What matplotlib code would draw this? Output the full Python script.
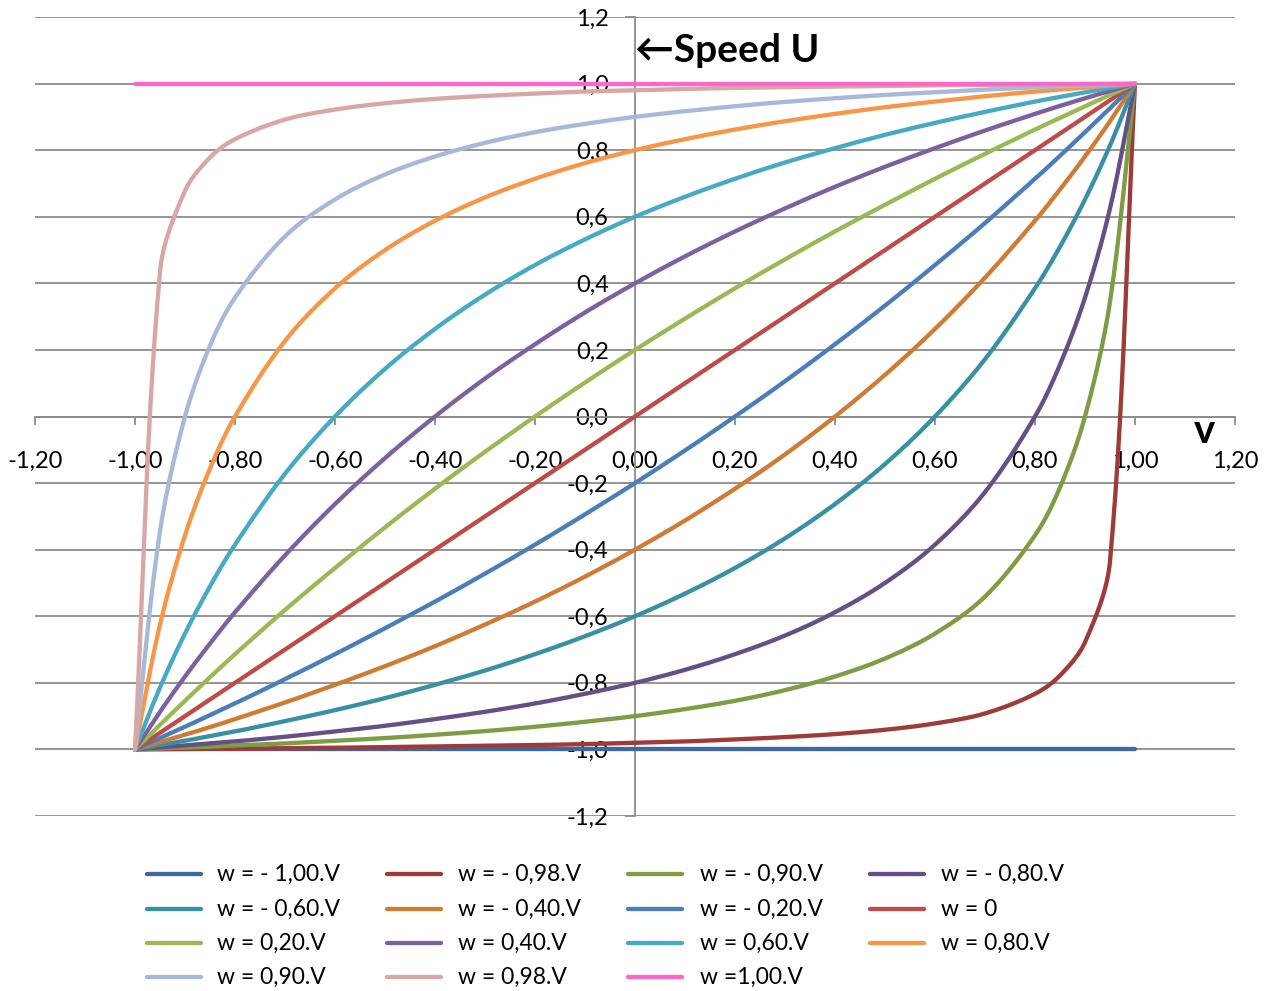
import numpy as np
import matplotlib
matplotlib.use("Agg")
import matplotlib.pyplot as plt
from matplotlib.lines import Line2D

plt.rcParams['font.family'] = ['Lato', 'DejaVu Sans']

# ---- data ----
V = [-1.0, -0.95, -0.9, -0.85, -0.8, -0.7, -0.6, -0.5, -0.4, -0.3, -0.2, -0.1, 0.0,
     0.1, 0.2, 0.3, 0.4, 0.5, 0.6, 0.7, 0.8, 0.85, 0.9, 0.95, 1.0]

u_wm100 = [-1.0] * 25
u_wm098 = [-1, -0.9995, -0.999, -0.998, -0.998, -0.996, -0.995, -0.993, -0.991, -0.989, -0.987, -0.984, -0.98,
           -0.976, -0.970, -0.963, -0.954, -0.941, -0.922, -0.892, -0.833, -0.778, -0.678, -0.435, 1]
u_wm090 = [-1, -0.997, -0.994, -0.992, -0.988, -0.982, -0.974, -0.966, -0.956, -0.945, -0.932, -0.917, -0.9,
           -0.879, -0.854, -0.822, -0.781, -0.727, -0.652, -0.541, -0.357, -0.213, 0, 0.345, 1]
u_wm080 = [-1, -0.994, -0.988, -0.982, -0.976, -0.962, -0.946, -0.929, -0.909, -0.887, -0.862, -0.833, -0.8,
           -0.761, -0.714, -0.658, -0.588, -0.5, -0.385, -0.227, 0, 0.156, 0.357, 0.625, 1]
u_wm060 = [-1, -0.987, -0.974, -0.960, -0.946, -0.915, -0.882, -0.846, -0.806, -0.763, -0.714, -0.660, -0.6,
           -0.532, -0.455, -0.366, -0.263, -0.143, 0, 0.172, 0.385, 0.510, 0.652, 0.814, 1]
u_wm040 = [-1, -0.978, -0.956, -0.933, -0.909, -0.859, -0.806, -0.75, -0.690, -0.625, -0.556, -0.481, -0.4,
           -0.3125, -0.217, -0.114, 0, 0.125, 0.263, 0.417, 0.588, 0.682, 0.781, 0.887, 1]
u_wm020 = [-1, -0.966, -0.932, -0.897, -0.862, -0.789, -0.714, -0.636, -0.556, -0.472, -0.385, -0.294, -0.2,
           -0.102, 0, 0.106, 0.217, 0.333, 0.455, 0.581, 0.714, 0.783, 0.854, 0.926, 1]
u_w000 = [-1.0, -0.95, -0.9, -0.85, -0.8, -0.7, -0.6, -0.5, -0.4, -0.3, -0.2, -0.1, 0.0,
          0.1, 0.2, 0.3, 0.4, 0.5, 0.6, 0.7, 0.8, 0.85, 0.9, 0.95, 1.0]
u_w020 = [-1, -0.926, -0.854, -0.783, -0.714, -0.581, -0.455, -0.333, -0.217, -0.106, 0, 0.102, 0.2,
          0.294, 0.385, 0.472, 0.556, 0.636, 0.714, 0.789, 0.862, 0.897, 0.932, 0.966, 1]
u_w040 = [-1, -0.887, -0.781, -0.682, -0.588, -0.417, -0.263, -0.125, 0, 0.114, 0.217, 0.3125, 0.4,
          0.481, 0.556, 0.625, 0.690, 0.75, 0.806, 0.859, 0.909, 0.933, 0.956, 0.978, 1]
u_w060 = [-1, -0.814, -0.652, -0.510, -0.385, -0.172, 0, 0.143, 0.263, 0.366, 0.455, 0.532, 0.6,
          0.660, 0.714, 0.763, 0.806, 0.846, 0.882, 0.915, 0.946, 0.960, 0.974, 0.987, 1]
u_w080 = [-1, -0.625, -0.357, -0.156, 0, 0.227, 0.385, 0.5, 0.588, 0.658, 0.714, 0.761, 0.8,
          0.833, 0.862, 0.887, 0.909, 0.929, 0.946, 0.962, 0.976, 0.982, 0.988, 0.994, 1]
u_w090 = [-1, -0.345, 0, 0.213, 0.357, 0.541, 0.652, 0.727, 0.781, 0.822, 0.854, 0.879, 0.9,
          0.917, 0.932, 0.945, 0.956, 0.966, 0.974, 0.982, 0.988, 0.992, 0.994, 0.997, 1]
u_w098 = [-1, 0.435, 0.678, 0.778, 0.833, 0.892, 0.922, 0.941, 0.954, 0.963, 0.970, 0.976, 0.98,
          0.984, 0.987, 0.989, 0.991, 0.993, 0.995, 0.996, 0.998, 0.998, 0.999, 0.9995, 1]
u_w100 = [1.0] * 25

series = [u_wm100, u_wm098, u_wm090, u_wm080, u_wm060, u_wm040, u_wm020, u_w000,
          u_w020, u_w040, u_w060, u_w080, u_w090, u_w098, u_w100]
labels = ["w = - 1,00.V", "w = - 0,98.V", "w = - 0,90.V", "w = - 0,80.V",
          "w = - 0,60.V", "w = - 0,40.V", "w = - 0,20.V", "w = 0",
          "w = 0,20.V", "w = 0,40.V", "w = 0,60.V", "w = 0,80.V",
          "w = 0,90.V", "w = 0,98.V", "w =1,00.V"]
colors = ["#3D67A0", "#9E3B38", "#7E9C44", "#654F87", "#3790A5", "#D07B34",
          "#4A7EBB", "#BE4B48", "#98B954", "#7D60A0", "#46AAC5", "#F79646",
          "#A7B9D9", "#D8A6A5", "#FF66CC"]

x_ticks = [-1.2, -1.0, -0.8, -0.6, -0.4, -0.2, 0.0, 0.2, 0.4, 0.6, 0.8, 1.0, 1.2]
x_ticklabels = ["-1,20", "-1,00", "-0,80", "-0,60", "-0,40", "-0,20", "0,00",
                "0,20", "0,40", "0,60", "0,80", "1,00", "1,20"]
y_ticks = [-1.2, -1.0, -0.8, -0.6, -0.4, -0.2, 0.0, 0.2, 0.4, 0.6, 0.8, 1.0, 1.2]
y_ticklabels = ["-1,2", "-1,0", "-0,8", "-0,6", "-0,4", "-0,2", "0,0",
                "0,2", "0,4", "0,6", "0,8", "1,0", "1,2"]

YSCALE = 333.0 / 500.0  # pixel aspect of the plot area (y px per unit / x px per unit)


def smooth(xs, ys, n=30):
    """Smoothed line: cubic Bezier through points, chord-length scaled tangents."""
    P = np.column_stack([xs, np.asarray(ys, float) * YSCALE]).astype(float)
    m = len(P)
    d = np.linalg.norm(np.diff(P, axis=0), axis=1)
    tang = np.zeros_like(P)
    for i in range(m):
        if 0 < i < m - 1:
            tot = d[i - 1] + d[i]
            tang[i] = (P[i + 1] - P[i - 1]) / tot if tot > 0 else 0
        elif i == 0:
            tang[i] = (P[1] - P[0]) / d[0] if d[0] > 0 else 0
        else:
            tang[i] = (P[-1] - P[-2]) / d[-1] if d[-1] > 0 else 0
    out = [P[0]]
    t = np.linspace(0, 1, n)[1:, None]
    for i in range(m - 1):
        p1, p2 = P[i], P[i + 1]
        c1 = p1 + tang[i] * d[i] / 3.0
        c2 = p2 - tang[i + 1] * d[i] / 3.0
        seg = ((1 - t) ** 3) * p1 + 3 * ((1 - t) ** 2) * t * c1 + 3 * (1 - t) * t ** 2 * c2 + t ** 3 * p2
        out.extend(seg)
    out = np.array(out)
    return out[:, 0], out[:, 1] / YSCALE


W, H = 1270, 991
fig = plt.figure(figsize=(W / 100, H / 100), dpi=100)
ax = fig.add_axes([35 / W, 1 - 816 / H, 1200 / W, 799 / H])
ax.set_xlim(-1.2, 1.2)
ax.set_ylim(-1.2, 1.2)
ax.set_axisbelow(True)

grid_c = "#8C8C8C"
for s in ["top", "right"]:
    ax.spines[s].set_visible(False)
ax.spines["left"].set_position(("data", 0))
ax.spines["bottom"].set_position(("data", 0))
for s in ["left", "bottom"]:
    ax.spines[s].set_color(grid_c)
    ax.spines[s].set_linewidth(1.3)

ax.set_yticks(y_ticks)
ax.set_yticklabels(y_ticklabels)
ax.set_xticks(x_ticks)
ax.set_xticklabels(x_ticklabels)
ax.tick_params(axis="x", direction="out", length=6, width=1.3, color=grid_c,
               pad=19, labelsize=17)
ax.tick_params(axis="y", direction="out", length=7, width=1.3, color=grid_c,
               pad=12, labelsize=17)
ax.yaxis.grid(True, color=grid_c, linewidth=1.3)

for ys, c in zip(series, colors):
    sx, sy = smooth(V, ys)
    ax.plot(sx, sy, color=c, lw=3.1, solid_capstyle="round", zorder=3, clip_on=False)

ax.text(0.0, 1.1, "\u2190Speed U", fontsize=28, fontweight="bold",
        ha="left", va="center", family=["Lato", "DejaVu Sans"])
ax.text(1.138, -0.045, "v", fontsize=29, fontweight="bold", ha="center", va="center")

# legend (row-wise, 4 columns)
line_x = [147, 387, 628, 870]
text_x = [217, 458, 700, 941]
row_y = [874, 909, 943, 977]
for i, (lab, c) in enumerate(zip(labels, colors)):
    r, col = divmod(i, 4)
    yf = 1 - row_y[r] / H
    fig.add_artist(Line2D([line_x[col] / W, (line_x[col] + 54) / W], [yf, yf],
                          transform=fig.transFigure, color=c, lw=3.1,
                          solid_capstyle="round"))
    fig.text(text_x[col] / W, yf, lab, fontsize=16.5, va="center", ha="left")

fig.savefig("out.png", dpi=100)
